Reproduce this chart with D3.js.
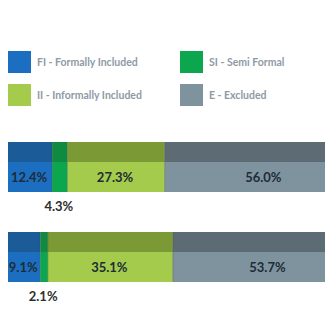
<!DOCTYPE html>
<html>
<head>
<meta charset="utf-8">
<script src="https://cdn.jsdelivr.net/npm/d3@7"></script>
<style>
  body { margin: 0; background: #fff; }
  svg { display: block; }
  .legend text { font-family: Lato, "Open Sans", sans-serif; font-weight: 700; fill: #8e9aa5; font-size: 10.5px; }
  .val { font-family: Lato, "Open Sans", sans-serif; font-weight: 700; font-size: 13px; fill: #1d2c38; }
  .below { font-family: Lato, "Open Sans", sans-serif; font-weight: 700; font-size: 13px; fill: #2e2e2e; }
</style>
</head>
<body>
<div id="chart"></div>
<script>
var width = 325,
    height = 325;

// categories and their colours (light fill / darker top band)
var categories = ["FI - Formally Included", "SI - Semi Formal", "II - Informally Included", "E - Excluded"];
var lightColors = ["#1c6fc0", "#0ba64d", "#a4cb4b", "#7f939f"];
var darkColors = ["#1b5b97", "#108a40", "#7b9a36", "#5d6b74"];

// shares per row (percent)
var row1 = [12.4, 4.3, 27.3, 56.0];
var row2 = [9.1, 2.1, 35.1, 53.7];
var rows = [row1, row2];

var svg = d3.select("#chart")
    .append("svg")
    .attr("width", width)
    .attr("height", height);

// legend, two columns
var legend = svg.append("g").attr("class", "legend");
var legendPos = [[8, 51], [180, 51], [8, 84], [180, 84]];

legend.selectAll("g")
    .data(categories)
    .enter()
    .append("g")
    .attr("transform", function(d, i) { return "translate(" + legendPos[i][0] + "," + legendPos[i][1] + ")"; })
    .each(function(d, i) {
        var g = d3.select(this);
        g.append("rect")
            .attr("width", 23)
            .attr("height", 22)
            .attr("fill", lightColors[i]);
        g.append("text")
            .attr("x", 29)
            .attr("y", 11)
            .attr("dy", "0.35em")
            .text(d);
    });

var x = d3.scaleLinear().domain([0, 100]).range([8, 364]);

var barTop = [142, 232],
    bandH = 20,
    lowH = 30;

rows.forEach(function(vals, r) {
    var stack = [];
    var acc = 0;
    vals.forEach(function(v, i) {
        stack.push({ v: v, x0: acc, x1: acc + v, i: i });
        acc += v;
    });

    var g = svg.append("g").attr("class", "bar");
    var y0 = barTop[r];

    // darker top band
    g.selectAll("rect.top")
        .data(stack)
        .enter()
        .append("rect")
        .attr("class", "top")
        .attr("x", function(d) { return x(d.x0); })
        .attr("y", y0)
        .attr("width", function(d) { return x(d.x1) - x(d.x0); })
        .attr("height", bandH)
        .attr("fill", function(d) { return darkColors[d.i]; });

    // lighter lower part
    g.selectAll("rect.low")
        .data(stack)
        .enter()
        .append("rect")
        .attr("class", "low")
        .attr("x", function(d) { return x(d.x0); })
        .attr("y", y0 + bandH)
        .attr("width", function(d) { return x(d.x1) - x(d.x0); })
        .attr("height", lowH)
        .attr("fill", function(d) { return lightColors[d.i]; });

    // thin separators between segments
    g.selectAll("line.sep")
        .data(stack.slice(1))
        .enter()
        .append("line")
        .attr("class", "sep")
        .attr("x1", function(d) { return x(d.x0); })
        .attr("x2", function(d) { return x(d.x0); })
        .attr("y1", y0)
        .attr("y2", y0 + bandH + lowH)
        .attr("stroke", "#3f4a36")
        .attr("stroke-opacity", 0.35)
        .attr("stroke-width", 1);

    // labels: inside when wide enough, below otherwise
    g.selectAll("text")
        .data(stack)
        .enter()
        .append("text")
        .attr("class", function(d) { return d.v > 6 ? "val" : "below"; })
        .attr("text-anchor", "middle")
        .attr("x", function(d) { return (x(d.x0) + x(d.x1)) / 2 - 1; })
        .attr("y", function(d) { return d.v > 6 ? y0 + bandH + lowH / 2 : y0 + bandH + lowH + 14; })
        .attr("dy", "0.35em")
        .text(function(d) { return d.v.toFixed(1) + "%"; });
});
</script>
</body>
</html>
